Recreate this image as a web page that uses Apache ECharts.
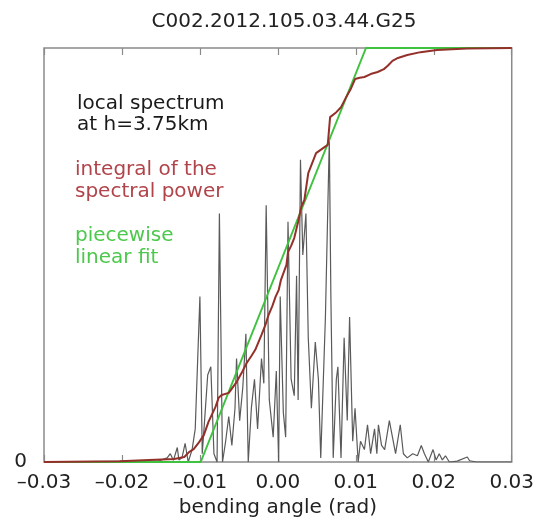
<!DOCTYPE html>
<html>
<head>
<meta charset="utf-8">
<script src="https://cdn.jsdelivr.net/npm/echarts@6/dist/echarts.min.js"></script>
<style>
  html, body { margin: 0; padding: 0; background: #fff; }
  #chart { width: 537px; height: 524px; }
</style>
</head>
<body>
<div id="chart"></div>
<script>
// local spectrum (grey), angle in rad and normalised power
let specX = [-0.0300, -0.0152, -0.0142, -0.0138, -0.0134, -0.0132, -0.0129, -0.0127, -0.0123, -0.0119,
  -0.0115, -0.0110, -0.0106, -0.0100, -0.0097, -0.0094, -0.0090, -0.0086, -0.0082, -0.0078,
  -0.0075, -0.0071, -0.0067, -0.0063, -0.0059, -0.0055, -0.0053, -0.0049, -0.0045, -0.0041,
  -0.0038, -0.0034, -0.0030, -0.0026, -0.0021, -0.0018, -0.0015, -0.0011, -0.0006, -0.0002,
  0.0001, 0.0003, 0.0007, 0.0010, 0.0013, 0.0017, 0.0021, 0.0024, 0.0026, 0.0029,
  0.0032, 0.0036, 0.0039, 0.0043, 0.0048, 0.0052, 0.0055, 0.0061, 0.0066, 0.0068,
  0.0071, 0.0075, 0.0077, 0.0081, 0.0085, 0.0089, 0.0092, 0.0096, 0.0099, 0.0103,
  0.0106, 0.0111, 0.0115, 0.0119, 0.0124, 0.0127, 0.0129, 0.0133, 0.0137, 0.0143,
  0.0147, 0.0151, 0.0157, 0.0161, 0.0166, 0.0173, 0.0179, 0.0184, 0.0188, 0.0193,
  0.0199, 0.0203, 0.0207, 0.0211, 0.0215, 0.0220, 0.0230, 0.0243, 0.0246, 0.0255, 0.0300];
let specY = [0.000, 0.003, 0.010, 0.020, 0.004, 0.005, 0.035, 0.005, 0.010, 0.045,
  0.000, 0.030, 0.080, 0.400, 0.020, 0.100, 0.210, 0.230, 0.020, 0.000,
  0.600, 0.000, 0.050, 0.110, 0.040, 0.130, 0.250, 0.100, 0.180, 0.310,
  0.000, 0.130, 0.200, 0.080, 0.250, 0.190, 0.620, 0.150, 0.060, 0.220,
  0.000, 0.400, 0.120, 0.060, 0.580, 0.200, 0.160, 0.450, 0.150, 0.730,
  0.500, 0.600, 0.300, 0.130, 0.290, 0.200, 0.010, 0.350, 0.780, 0.400,
  0.010, 0.200, 0.230, 0.010, 0.300, 0.100, 0.350, 0.050, 0.130, 0.000,
  0.050, 0.030, 0.090, 0.020, 0.080, 0.020, 0.090, 0.040, 0.030, 0.100,
  0.060, 0.020, 0.090, 0.020, 0.010, 0.020, 0.015, 0.040, 0.020, 0.000,
  0.030, 0.005, 0.020, 0.005, 0.015, 0.000, 0.002, 0.012, 0.003, 0.000, 0.000];

// integral of the spectral power (red)
let integralX = [-0.0300, -0.0203, -0.0165, -0.0133, -0.0120, -0.0114, -0.0108, -0.0101, -0.0095, -0.0089,
  -0.0083, -0.0080, -0.0076, -0.0072, -0.0063, -0.0053, -0.0046, -0.0040, -0.0034, -0.0029,
  -0.0021, -0.0016, -0.0012, -0.0007, -0.0003, 0.0001, 0.0004, 0.0011, 0.0013, 0.0017,
  0.0021, 0.0026, 0.0030, 0.0034, 0.0039, 0.0044, 0.0049, 0.0058, 0.0064, 0.0067,
  0.0075, 0.0081, 0.0087, 0.0094, 0.0099, 0.0105, 0.0111, 0.0119, 0.0128, 0.0136,
  0.0141, 0.0147, 0.0154, 0.0166, 0.0183, 0.0204, 0.0243, 0.0300];
let integralY = [0.000, 0.002, 0.005, 0.007, 0.012, 0.024, 0.031, 0.048, 0.065, 0.097,
  0.121, 0.133, 0.155, 0.162, 0.167, 0.193, 0.217, 0.239, 0.256, 0.271,
  0.307, 0.331, 0.355, 0.377, 0.399, 0.415, 0.440, 0.476, 0.507, 0.522,
  0.541, 0.580, 0.616, 0.633, 0.698, 0.722, 0.746, 0.758, 0.766, 0.833,
  0.845, 0.857, 0.879, 0.903, 0.925, 0.928, 0.930, 0.937, 0.942, 0.949,
  0.957, 0.969, 0.976, 0.983, 0.990, 0.995, 0.999, 1.000];

// piecewise linear fit (green)
let fitX = [-0.0300, -0.0099, 0.0113, 0.0300];
let fitY = [0, 0, 1, 1];

let xTicks = { min: -0.03, max: 0.03, step: 0.01 };

function zip(xs, ys) {
  return xs.map((x, i) => [x, ys[i]]);
}

function tickLabel(v) {
  return (v < -1e-9 ? '\u2013' : '') + Math.abs(v).toFixed(2);
}

const font = 'DejaVu Sans';

function note(text, x, y, color) {
  return {
    type: 'text',
    x: x,
    y: y,
    z: 10,
    style: {
      text: text,
      fill: color,
      fontSize: 20,
      fontFamily: font,
      verticalAlign: 'middle',
    },
  };
}

function createChart(chart) {
  let option = {
    animation: false,
    backgroundColor: '#fff',
    title: {
      text: 'C002.2012.105.03.44.G25',
      left: 279,
      top: 7,
      textAlign: 'center',
      textStyle: { fontSize: 20, fontWeight: 'normal', fontFamily: font, color: '#222' },
    },
    grid: {
      left: 44,
      right: 22,
      top: 48,
      bottom: 62,
      show: true,
      borderColor: '#8a8a8a',
      borderWidth: 1.5,
    },
    xAxis: [
      {
        type: 'value',
        min: xTicks.min,
        max: xTicks.max,
        interval: xTicks.step,
        name: 'bending angle (rad)',
        nameLocation: 'middle',
        nameGap: 32,
        nameTextStyle: { fontSize: 20, fontFamily: font, color: '#222' },
        axisLine: { show: false },
        axisTick: { inside: true, length: 7, lineStyle: { color: '#8a8a8a', width: 1.2 } },
        splitLine: { show: false },
        axisLabel: { margin: 11, fontSize: 20, fontFamily: font, color: '#222', formatter: tickLabel },
      },
      {
        type: 'value',
        position: 'top',
        min: xTicks.min,
        max: xTicks.max,
        interval: xTicks.step,
        axisLine: { show: false },
        axisTick: { inside: true, length: 7, lineStyle: { color: '#8a8a8a', width: 1.2 } },
        splitLine: { show: false },
        axisLabel: { show: false },
      },
    ],
    yAxis: {
      type: 'value',
      min: 0,
      max: 1,
      interval: 1,
      axisLine: { show: false },
      axisTick: { show: false },
      splitLine: { show: false },
      axisLabel: {
        margin: 17,
        fontSize: 20,
        fontFamily: font,
        color: '#222',
        formatter: v => (v === 0 ? '0' : ''),
      },
    },
    graphic: [
      note('local spectrum', 77, 103.5, '#1a1a1a'),
      note('at h=3.75km', 77, 125, '#1a1a1a'),
      note('integral of the', 75, 170, '#b0444a'),
      note('spectral power', 75, 192, '#b0444a'),
      note('piecewise', 75, 236, '#4cc94c'),
      note('linear fit', 75, 258, '#4cc94c'),
    ],
    series: [
      {
        name: 'spectrum',
        type: 'line',
        data: zip(specX, specY),
        symbol: 'none',
        lineStyle: { color: '#5a5a5a', width: 1.2 },
        z: 2,
      },
      {
        name: 'fit',
        type: 'line',
        data: zip(fitX, fitY),
        symbol: 'none',
        lineStyle: { color: '#3fc23f', width: 2 },
        z: 3,
      },
      {
        name: 'integral',
        type: 'line',
        data: zip(integralX, integralY),
        symbol: 'none',
        lineStyle: { color: '#93302a', width: 2 },
        z: 4,
      },
    ],
  };

  chart.setOption(option);
}

let chart = echarts.init(document.getElementById('chart'));
createChart(chart);
</script>
</body>
</html>
